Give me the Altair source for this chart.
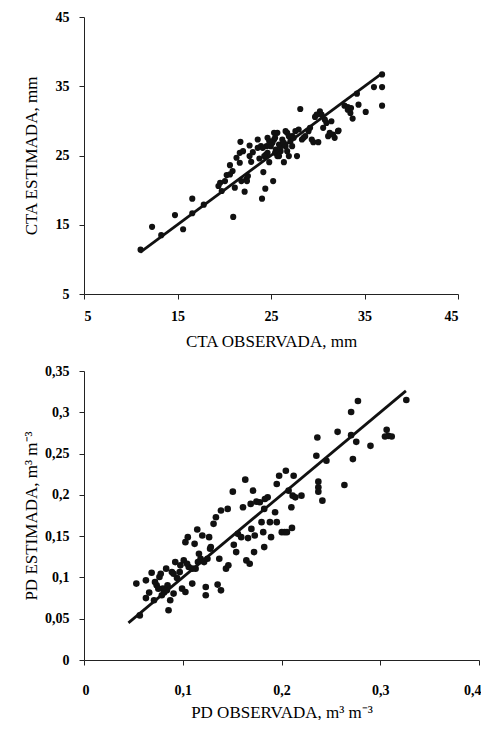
import altair as alt
import pandas as pd

# ---- top panel: CTA (mm) ----
cta_obs = [11.05, 12.28, 13.26, 14.73, 15.6, 16.58, 16.58, 17.81, 20.96, 19.56, 19.73, 20.26, 20.61,
           21.13, 20.89, 21.31, 21.66, 21.73, 22.18, 22.36, 22.53, 22.71, 22.88, 23.06, 23.58, 23.76,
           23.93, 24.04, 24.18, 24.39, 24.46, 24.53, 24.63, 24.81, 24.98, 25.23, 25.33, 25.44, 25.68,
           25.86, 26.03, 26.21, 26.38, 26.56, 26.73, 26.91, 27.08, 27.26, 27.78, 27.96, 28.13, 28.31,
           28.48, 29.01, 29.53, 29.71, 30.06, 30.23, 30.41, 30.58, 31.11, 31.46, 31.28, 31.81, 32.23,
           32.86, 33.21, 33.49, 33.73, 34.19, 34.36, 35.13, 36.01, 36.88, 36.88, 36.88,
           24.11, 25.16, 25.51, 25.68, 26.03, 26.38, 26.73, 26.91, 27.26, 27.43, 25.33, 24.63, 25.86,
           23.58, 22.71, 22.01, 21.66, 20.61, 19.38, 20.08, 21.83, 22.43, 24.28, 24.81, 25.44, 26.56,
           27.61, 28.66, 29.18, 29.36, 29.88, 30.76, 30.93, 31.63, 32.16, 33.21, 33.56]
cta_est = [11.4, 14.7, 13.5, 16.4, 14.35, 18.77, 16.66, 17.9, 16.13, 21.07, 19.87, 22.17, 23.6,
           20.35, 22.75, 24.67, 25.39, 26.97, 19.78, 21.55, 22.03, 26.44, 24.09, 25.48, 27.31, 24.57,
           26.35, 18.77, 22.6, 20.21, 25.15, 26.35, 27.55, 24.04, 26.35, 21.31, 27.31, 25.39, 28.27,
           26.59, 25.63, 27.31, 24.04, 26.35, 28.27, 24.91, 27.07, 27.79, 24.91, 28.75, 31.72, 27.31,
           27.55, 28.51, 26.92, 30.57, 26.92, 31.38, 30.9, 28.99, 27.79, 29.94, 28.27, 27.55, 28.6,
           32.2, 32.0, 31.14, 30.33, 33.93, 32.34, 31.29, 34.88, 34.88, 32.2, 36.71,
           26.11, 26.83, 25.87, 24.91, 26.35, 26.83, 25.63, 27.79, 26.35, 27.55, 28.27, 25.39, 24.91,
           26.11, 24.91, 25.63, 23.95, 22.27, 20.59, 21.31, 21.31, 21.31, 24.91, 27.07, 27.55, 28.51,
           28.51, 27.79, 28.99, 27.31, 30.9, 30.18, 29.7, 28.03, 28.51, 31.62, 31.86]
cta_line = [11.0, 36.8]
cta_ticks = [5, 15, 25, 35, 45]

# ---- bottom panel: PD (m3 m-3) ----
pd_obs = [0.053, 0.0565, 0.0627, 0.0627, 0.066, 0.0685, 0.0709, 0.0736, 0.0764, 0.0777, 0.0798,
          0.0811, 0.0832, 0.0846, 0.0856, 0.0873, 0.089, 0.0907, 0.0924, 0.0942, 0.0969, 0.0993,
          0.101, 0.1027, 0.1027, 0.1051, 0.1061, 0.1096, 0.112, 0.113, 0.1147, 0.1164, 0.1198,
          0.1216, 0.1233, 0.1233, 0.125, 0.1267, 0.1277, 0.1312, 0.1336, 0.1353, 0.137, 0.1387,
          0.1387, 0.1438, 0.1455, 0.1462, 0.1507, 0.1517, 0.1541, 0.1558, 0.1592, 0.161, 0.1633,
          0.1644, 0.1661, 0.1678, 0.1688, 0.1695, 0.1712, 0.1722, 0.1729, 0.1746, 0.1798, 0.1815,
          0.1825, 0.1825, 0.186, 0.1883, 0.1894, 0.1935, 0.1952, 0.1952, 0.1976, 0.2003, 0.2031,
          0.2044, 0.2055, 0.2072, 0.21, 0.2106, 0.2113, 0.2123, 0.214, 0.2202, 0.2353, 0.2363,
          0.2373, 0.2373, 0.2373, 0.2414, 0.2455, 0.2568, 0.2637, 0.2705, 0.2705, 0.2723, 0.2757,
          0.2774, 0.2901, 0.3065, 0.3082, 0.3048, 0.3116, 0.3264,
          0.0719, 0.0753, 0.0788, 0.0839, 0.0907, 0.0976, 0.1044, 0.1096, 0.1154, 0.1181, 0.1284,
          0.178, 0.1832]
pd_est = [0.0925, 0.054, 0.0965, 0.075, 0.0816, 0.1057, 0.0723, 0.0905, 0.1005, 0.1045, 0.0864,
          0.0816, 0.1106, 0.0905, 0.0603, 0.0723, 0.1065, 0.0804, 0.1186, 0.0993, 0.1065, 0.0864,
          0.1206, 0.0824, 0.1427, 0.1488, 0.1126, 0.0925, 0.1407, 0.1106, 0.158, 0.1287, 0.1508,
          0.1186, 0.0884, 0.0784, 0.1226, 0.1488, 0.1347, 0.1649, 0.1729, 0.0913, 0.1226, 0.0844,
          0.181, 0.1106, 0.183, 0.1146, 0.2039, 0.1395, 0.1307, 0.1528, 0.1488, 0.185, 0.2184,
          0.1206, 0.1476, 0.1166, 0.189, 0.1588, 0.2051, 0.1307, 0.1508, 0.1918, 0.1669, 0.1548,
          0.1367, 0.183, 0.197, 0.1669, 0.1488, 0.1789, 0.1669, 0.2131, 0.2232, 0.1548, 0.1548,
          0.2292, 0.1548, 0.2051, 0.185, 0.16, 0.199, 0.2232, 0.197, 0.199, 0.2473, 0.2694,
          0.216, 0.2091, 0.2039, 0.193, 0.2413, 0.2763, 0.2119, 0.3004, 0.2723, 0.2433, 0.2642,
          0.3137, 0.2594, 0.2787, 0.2715, 0.2707, 0.2707, 0.3149,
          0.0945, 0.0864, 0.0784, 0.0844, 0.1045, 0.1146, 0.1166, 0.1106, 0.1186, 0.1226, 0.1367,
          0.191, 0.195]
pd_line = [0.045, 0.326]
pd_xticks = [0, 0.1, 0.2, 0.3, 0.4]
pd_yticks = [0, 0.05, 0.1, 0.15, 0.2, 0.25, 0.3, 0.35]

FONT = "Liberation Serif"
INK = "#111111"

W1, H1 = 374, 277
W2, H2 = 395, 289

comma = "replace(format(datum.value, '.2~f'), '.', ',')"

def ax(values, title, orient, label_pad, title_x, title_y, expr=None, flush=False):
    kw = dict(values=values, title=title, grid=False, domainColor="#222", tickColor="#222",
              tickSize=5, labelPadding=label_pad, labelFont=FONT, labelFontSize=14,
              labelFontWeight="bold", labelColor="black", titleFont=FONT, titleFontSize=17,
              titleFontWeight="normal", titleColor="black", titleX=title_x, titleY=title_y,
              titleBaseline="middle", titleAlign="center")
    kw["titleAngle"] = 270 if orient == "left" else 0
    if expr:
        kw["labelExpr"] = expr
    if flush:
        kw["labelFlush"] = True
        kw["labelFlushOffset"] = 2
    return alt.Axis(**kw)

df1 = pd.DataFrame({"obs": cta_obs, "est": cta_est})
ln1 = pd.DataFrame({"obs": cta_line, "est": cta_line})

x1 = alt.X("obs:Q", scale=alt.Scale(domain=[5, 45], nice=False, zero=False),
           axis=ax(cta_ticks, "CTA OBSERVADA, mm", "bottom", 10, W1 / 2, 47))
y1 = alt.Y("est:Q", scale=alt.Scale(domain=[5, 45], nice=False, zero=False),
           axis=ax(cta_ticks, "CTA ESTIMADA, mm", "left", 10, -53, H1 / 2))

top = alt.layer(
    alt.Chart(df1).mark_circle(size=38, color=INK, opacity=1).encode(x=x1, y=y1),
    alt.Chart(ln1).mark_line(color=INK, strokeWidth=2.8).encode(x="obs:Q", y="est:Q"),
).properties(width=W1, height=H1)

df2 = pd.DataFrame({"obs": pd_obs, "est": pd_est})
ln2 = pd.DataFrame({"obs": pd_line, "est": pd_line})

x2 = alt.X("obs:Q", scale=alt.Scale(domain=[0, 0.4], nice=False),
           axis=ax(pd_xticks, "PD OBSERVADA, m³ m⁻³", "bottom", 18, W2 / 2, 52, comma, flush=True))
y2 = alt.Y("est:Q", scale=alt.Scale(domain=[0, 0.35], nice=False),
           axis=ax(pd_yticks, "PD ESTIMADA, m³ m⁻³", "left", 10, -53, H2 / 2, comma))

bottom = alt.layer(
    alt.Chart(df2).mark_circle(size=44, color=INK, opacity=1).encode(x=x2, y=y2),
    alt.Chart(ln2).mark_line(color=INK, strokeWidth=2.8).encode(x="obs:Q", y="est:Q"),
).properties(width=W2, height=H2)

chart = alt.vconcat(top, bottom, spacing=15).properties(
    padding={"left": 14, "top": 2, "right": 0, "bottom": 0},
).configure_view(stroke=None)

chart.save("out.html", embed_options={"renderer": "svg", "actions": False})
